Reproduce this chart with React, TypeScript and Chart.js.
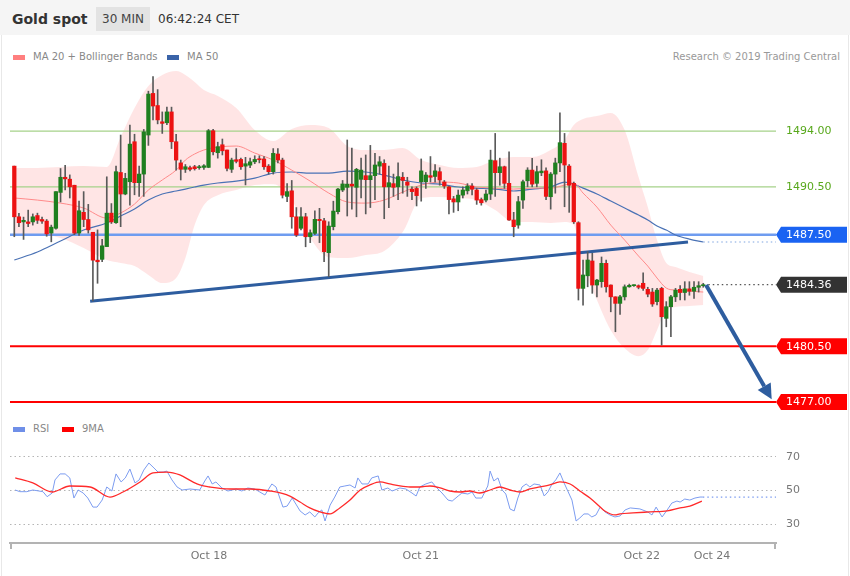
import React, { useEffect, useRef } from 'react';
import { Chart, registerables } from 'chart.js';

Chart.register(...registerables);

const FONT = "'DejaVu Sans', sans-serif";

// ---- 30-min candles (open / high / low / close) ----
const opens = [
  1491.80, 1488.62, 1488.30, 1488.30, 1488.30, 1488.70, 1488.45, 1488.35, 1487.60, 1487.90,
  1490.15, 1491.10, 1490.98, 1490.60, 1487.60, 1488.90, 1488.45, 1487.65, 1485.90, 1485.95,
  1486.75, 1488.85, 1488.25, 1491.40, 1490.05, 1490.82, 1493.33, 1490.76, 1491.30, 1493.75,
  1496.36, 1495.60, 1494.58, 1494.52, 1495.20, 1493.33, 1492.00, 1491.60, 1491.70, 1491.76,
  1491.70, 1491.72, 1491.72, 1494.02, 1492.64, 1493.14, 1492.81, 1491.60, 1492.20, 1492.22,
  1491.80, 1491.86, 1492.07, 1492.25, 1492.25, 1491.80, 1491.45, 1492.56, 1492.18, 1489.90,
  1490.25, 1488.62, 1487.90, 1488.62, 1487.37, 1487.58, 1488.46, 1488.37, 1486.37, 1488.00,
  1488.94, 1490.30, 1490.47, 1490.67, 1490.47, 1490.97, 1491.20, 1490.95, 1491.20, 1491.80,
  1491.97, 1490.50, 1490.70, 1490.50, 1491.10, 1490.80, 1490.35, 1490.40, 1490.82, 1490.82,
  1491.20, 1491.15, 1491.45, 1490.80, 1490.50, 1489.75, 1489.55, 1489.98, 1490.25, 1490.55,
  1490.30, 1489.70, 1489.67, 1490.05, 1492.14, 1491.39, 1491.76, 1490.72, 1488.42, 1488.10,
  1489.67, 1490.88, 1491.55, 1490.72, 1491.38, 1491.50, 1489.88, 1491.30, 1492.00, 1493.23,
  1491.80, 1490.72, 1488.25, 1484.13, 1484.92, 1485.85, 1484.34, 1484.55, 1485.70, 1484.34,
  1483.60, 1483.19, 1483.60, 1484.23, 1484.30, 1484.30, 1484.45, 1484.07, 1483.90, 1483.30,
  1484.13, 1482.25, 1482.98, 1483.60, 1484.07, 1483.87, 1484.10, 1483.95, 1484.20, 1484.30,
];
const highs = [
  1491.80, 1488.84, 1488.60, 1489.04, 1488.80, 1488.85, 1488.60, 1488.45, 1488.10, 1490.20,
  1491.65, 1491.85, 1491.25, 1490.60, 1489.60, 1490.20, 1489.40, 1487.65, 1487.80, 1487.20,
  1491.13, 1489.45, 1491.80, 1493.75, 1491.35, 1494.38, 1493.80, 1491.80, 1494.10, 1496.50,
  1497.41, 1496.60, 1495.20, 1495.50, 1495.50, 1493.80, 1492.18, 1491.90, 1491.80, 1491.85,
  1491.85, 1491.90, 1494.10, 1494.10, 1493.30, 1493.50, 1492.81, 1492.30, 1492.90, 1492.30,
  1492.35, 1492.30, 1492.45, 1492.45, 1492.40, 1491.90, 1492.90, 1492.90, 1492.30, 1490.70,
  1490.90, 1489.20, 1489.20, 1488.84, 1487.80, 1489.00, 1489.15, 1488.52, 1488.31, 1489.60,
  1490.40, 1490.90, 1493.44, 1492.93, 1491.66, 1492.30, 1492.50, 1493.10, 1492.60, 1492.40,
  1492.20, 1491.80, 1491.30, 1492.00, 1491.40, 1491.10, 1490.50, 1490.50, 1492.25, 1491.40,
  1492.40, 1491.90, 1491.70, 1490.90, 1490.55, 1489.90, 1490.30, 1490.50, 1490.70, 1490.70,
  1490.40, 1489.80, 1490.30, 1492.80, 1493.85, 1492.30, 1491.80, 1492.70, 1488.90, 1489.90,
  1490.93, 1491.70, 1492.29, 1491.80, 1492.20, 1491.70, 1491.40, 1492.30, 1495.15, 1493.85,
  1491.90, 1490.80, 1488.31, 1485.90, 1486.43, 1486.33, 1484.70, 1486.10, 1485.90, 1484.35,
  1483.60, 1483.70, 1484.35, 1484.40, 1484.35, 1484.35, 1485.11, 1484.20, 1484.13, 1484.13,
  1484.20, 1483.30, 1483.70, 1484.13, 1484.30, 1484.55, 1484.55, 1484.55, 1484.55, 1484.45,
];
const lows = [
  1487.37, 1488.00, 1487.20, 1488.00, 1488.10, 1488.20, 1488.20, 1487.40, 1487.05, 1487.85,
  1489.55, 1490.30, 1489.80, 1487.50, 1487.45, 1488.00, 1487.60, 1483.35, 1484.45, 1485.80,
  1486.75, 1488.20, 1488.20, 1488.00, 1490.00, 1489.35, 1490.00, 1489.90, 1489.90, 1493.10,
  1494.69, 1494.45, 1493.85, 1494.40, 1492.90, 1491.55, 1490.93, 1491.40, 1491.50, 1491.55,
  1491.60, 1491.60, 1491.70, 1492.50, 1492.30, 1492.50, 1491.50, 1491.40, 1492.00, 1491.60,
  1490.62, 1491.70, 1491.95, 1492.00, 1491.60, 1491.30, 1491.30, 1492.00, 1489.80, 1489.57,
  1487.90, 1487.38, 1487.80, 1486.74, 1487.00, 1487.50, 1487.00, 1485.80, 1484.86, 1487.80,
  1488.80, 1490.20, 1488.67, 1489.10, 1488.62, 1489.80, 1488.80, 1489.20, 1489.70, 1491.30,
  1488.50, 1489.20, 1489.90, 1489.70, 1490.10, 1489.90, 1489.70, 1489.30, 1489.60, 1490.40,
  1490.80, 1490.80, 1490.60, 1490.40, 1488.80, 1488.90, 1489.00, 1489.80, 1490.05, 1490.00,
  1489.40, 1489.35, 1489.55, 1489.70, 1489.90, 1490.60, 1490.40, 1488.40, 1487.37, 1487.90,
  1489.15, 1490.50, 1490.50, 1490.50, 1491.20, 1489.70, 1489.10, 1490.10, 1491.45, 1489.25,
  1488.90, 1488.20, 1483.40, 1483.08, 1484.23, 1483.82, 1483.60, 1484.20, 1483.90, 1482.66,
  1481.41, 1482.50, 1483.40, 1484.20, 1484.25, 1484.10, 1484.00, 1483.60, 1483.00, 1483.10,
  1480.57, 1481.72, 1481.10, 1483.30, 1483.40, 1483.40, 1483.70, 1483.50, 1483.90, 1484.20,
];
const closes = [
  1488.62, 1488.25, 1488.40, 1488.20, 1488.62, 1488.40, 1488.35, 1487.55, 1487.97, 1490.20,
  1491.10, 1491.00, 1490.50, 1487.60, 1489.00, 1488.45, 1487.80, 1485.90, 1485.80, 1486.80,
  1488.85, 1488.30, 1491.45, 1490.05, 1491.03, 1493.18, 1490.76, 1491.30, 1493.95, 1496.32,
  1495.57, 1494.70, 1494.48, 1495.20, 1493.33, 1492.18, 1491.60, 1491.76, 1491.60, 1491.64,
  1491.76, 1491.82, 1494.02, 1492.70, 1493.02, 1492.76, 1491.66, 1492.18, 1492.10, 1491.76,
  1491.95, 1492.07, 1492.22, 1492.20, 1491.76, 1491.45, 1492.60, 1492.18, 1489.98, 1490.20,
  1488.62, 1487.48, 1488.62, 1487.37, 1487.62, 1488.46, 1488.38, 1486.43, 1488.04, 1488.98,
  1490.36, 1490.68, 1490.67, 1490.55, 1491.60, 1491.55, 1490.95, 1491.20, 1491.87, 1492.07,
  1490.50, 1490.76, 1490.47, 1491.14, 1490.90, 1490.60, 1490.20, 1489.95, 1491.50, 1491.24,
  1491.10, 1491.50, 1490.93, 1490.55, 1489.70, 1489.55, 1489.98, 1490.30, 1490.55, 1490.35,
  1489.67, 1489.50, 1490.05, 1492.18, 1491.39, 1491.76, 1490.72, 1488.42, 1488.00, 1489.57,
  1490.82, 1491.55, 1490.67, 1491.45, 1491.49, 1489.90, 1491.30, 1492.00, 1493.27, 1491.87,
  1490.60, 1488.31, 1484.13, 1484.97, 1485.91, 1484.34, 1484.65, 1485.70, 1484.23, 1483.60,
  1483.19, 1483.60, 1484.23, 1484.32, 1484.32, 1484.20, 1484.13, 1483.77, 1483.15, 1484.02,
  1482.35, 1482.98, 1483.60, 1484.02, 1483.87, 1484.10, 1483.95, 1484.20, 1484.30, 1484.36,
];

// ---- indicators sampled at candle indices ----
const bandIdx = [0, 5, 10, 15, 20, 23, 26, 29, 32, 35, 37, 39, 41, 44, 48, 52, 56, 60, 64, 68, 72, 76, 80, 84, 88, 92, 96, 100, 104, 108, 112, 116, 119, 121, 123, 126, 129, 132, 135, 137, 139, 141, 143, 146, 149];
const bbUpper = [1491.68, 1491.68, 1491.74, 1491.80, 1491.74, 1493.62, 1495.44, 1496.82, 1497.51, 1497.76, 1497.51, 1497.07, 1496.57, 1496.20, 1495.44, 1494.06, 1493.37, 1494.13, 1494.38, 1494.19, 1493.06, 1492.81, 1492.81, 1492.93, 1492.18, 1491.87, 1491.68, 1491.74, 1492.18, 1492.37, 1492.37, 1492.81, 1493.44, 1494.38, 1494.75, 1494.94, 1495.13, 1494.06, 1491.11, 1489.23, 1487.16, 1485.72, 1485.47, 1485.15, 1484.90];
const bbLower = [1487.41, 1487.54, 1487.29, 1486.66, 1485.91, 1485.72, 1485.53, 1484.97, 1484.46, 1484.78, 1486.03, 1488.10, 1489.36, 1489.98, 1490.30, 1490.61, 1490.67, 1489.67, 1487.29, 1486.09, 1486.03, 1486.22, 1486.47, 1487.66, 1489.80, 1489.86, 1489.80, 1489.67, 1489.04, 1488.29, 1488.29, 1488.23, 1488.29, 1488.10, 1485.59, 1483.40, 1481.51, 1480.38, 1479.88, 1480.26, 1481.51, 1482.77, 1482.96, 1483.02, 1483.08];
const ma20 = [1489.80, 1489.67, 1489.48, 1489.17, 1488.54, 1488.86, 1489.42, 1490.30, 1490.93, 1491.55, 1492.18, 1492.56, 1492.81, 1492.99, 1493.06, 1492.62, 1492.18, 1491.55, 1490.86, 1490.11, 1489.55, 1489.48, 1489.67, 1490.17, 1490.61, 1490.80, 1490.74, 1490.49, 1490.42, 1490.36, 1490.42, 1490.42, 1490.61, 1490.74, 1490.11, 1489.23, 1488.10, 1487.16, 1486.16, 1485.53, 1484.78, 1484.15, 1484.02, 1483.96, 1483.90];
const ma50 = [1485.91, 1486.41, 1487.10, 1487.79, 1488.23, 1488.67, 1489.11, 1489.67, 1490.05, 1490.24, 1490.36, 1490.49, 1490.61, 1490.74, 1490.86, 1491.05, 1491.36, 1491.43, 1491.36, 1491.36, 1491.49, 1491.43, 1491.24, 1490.93, 1490.74, 1490.67, 1490.49, 1490.42, 1490.36, 1490.24, 1490.36, 1490.49, 1490.80, 1490.67, 1490.42, 1490.05, 1489.61, 1489.17, 1488.73, 1488.42, 1488.04, 1487.79, 1487.48, 1487.22, 1487.04];

// ---- levels & drawings ----
const resistanceLevels = [1494.0, 1490.5];
const pivotLevel = 1487.5;
const supportLevels = [1480.5, 1477.0];
const lastPrice = 1484.36;
const trendStart = { idx: 16.4, price: 1483.33 };
const trendEnd = { idx: 145.7, price: 1487.04 };
const arrowStart = { idx: 149.6, price: 1484.34 };
const arrowEnd = { idx: 163.8, price: 1477.17 };

const xMin = -0.93;
const xMax = 164.73;
const priceMin = 1476.25;
const priceMax = 1498.08;

const xTickIdx = [42.1, 87.9, 135.7, 150.9];
const xTickLabels = ['Oct 18', 'Oct 21', 'Oct 22', 'Oct 24'];

// ---- RSI panel ----
const rsiIdx = [0.2, 1.2, 2.7, 4.0, 6.2, 7.1, 8.2, 8.8, 9.9, 11.0, 12.0, 12.9, 13.8, 14.9, 15.9, 17.0, 17.9, 19.0, 20.0, 21.1, 22.0, 23.1, 24.0, 25.0, 26.1, 27.0, 28.0, 29.1, 30.0, 31.1, 32.2, 33.0, 34.1, 35.2, 36.3, 38.0, 40.1, 41.2, 41.9, 42.8, 43.6, 44.9, 46.2, 48.0, 49.2, 50.5, 52.0, 53.1, 54.2, 55.7, 56.6, 58.1, 59.0, 60.1, 60.9, 61.8, 62.9, 63.9, 65.0, 65.7, 66.5, 67.2, 68.3, 69.3, 70.4, 71.5, 72.6, 73.7, 74.3, 75.2, 76.5, 77.3, 78.7, 79.5, 80.8, 81.7, 83.4, 84.7, 86.0, 86.9, 87.7, 89.0, 90.3, 91.2, 92.5, 93.8, 94.7, 96.0, 96.8, 98.1, 99.0, 99.8, 101.1, 102.4, 102.9, 103.7, 104.6, 105.5, 106.3, 107.2, 108.1, 108.9, 109.8, 110.7, 111.5, 112.4, 113.7, 114.6, 115.4, 116.3, 117.1, 118.0, 118.9, 119.7, 120.6, 121.5, 122.3, 123.2, 124.1, 124.9, 125.8, 126.7, 127.7, 128.8, 129.9, 131.0, 132.1, 133.2, 135.3, 137.0, 137.9, 138.8, 140.1, 141.2, 142.2, 143.3, 144.0, 145.0, 146.1, 147.2, 148.3, 148.9];
const rsiVal = [50.3, 49.3, 49.3, 50.3, 49.3, 46.3, 48.5, 56.3, 59.9, 59.9, 57.5, 45.5, 50.3, 48.5, 45.5, 40.1, 40.1, 44.3, 52.1, 49.7, 59.9, 55.1, 57.5, 62.8, 54.5, 56.3, 62.2, 66.4, 64.0, 61.0, 61.0, 61.6, 56.3, 52.1, 50.3, 50.9, 50.3, 55.7, 58.7, 53.9, 55.1, 51.5, 49.7, 50.9, 49.7, 51.5, 50.9, 49.1, 47.3, 53.9, 52.1, 40.1, 40.7, 45.5, 41.9, 37.8, 35.4, 37.2, 34.2, 36.6, 38.4, 31.8, 41.3, 46.1, 52.1, 52.7, 53.3, 51.5, 57.5, 53.9, 53.9, 57.5, 58.7, 50.3, 51.5, 49.7, 51.5, 50.9, 48.5, 46.7, 52.1, 53.9, 55.1, 52.1, 48.5, 44.3, 43.7, 46.7, 48.5, 47.9, 49.1, 45.5, 45.5, 52.7, 61.6, 55.7, 57.5, 50.3, 47.9, 39.0, 37.8, 45.5, 52.1, 53.9, 52.1, 53.9, 53.3, 46.7, 49.1, 53.9, 56.3, 60.5, 54.5, 49.7, 44.3, 31.8, 33.6, 36.0, 36.0, 34.2, 35.4, 40.1, 37.3, 35.4, 34.2, 34.8, 38.4, 39.6, 39.0, 37.2, 35.4, 40.1, 34.2, 38.4, 42.5, 43.7, 43.1, 44.9, 44.3, 45.5, 46.1, 46.1];
const ma9Idx = [0.2, 4.0, 8.2, 12.0, 16.4, 20.7, 23.5, 27.2, 30.0, 33.0, 35.8, 38.6, 40.1, 42.3, 46.6, 51.0, 55.3, 59.6, 61.8, 63.9, 66.1, 68.3, 70.4, 72.6, 74.8, 76.9, 79.1, 81.2, 83.4, 85.6, 87.7, 89.9, 92.1, 94.2, 96.4, 98.5, 100.7, 102.9, 105.0, 107.2, 109.4, 111.5, 113.7, 115.8, 118.0, 120.2, 122.3, 124.5, 126.7, 127.7, 129.9, 131.0, 133.8, 137.5, 141.2, 144.0, 146.1, 148.7];
const ma9Val = [57.5, 54.5, 49.1, 52.7, 52.1, 46.1, 49.1, 55.1, 60.5, 61.0, 59.3, 55.1, 53.3, 52.1, 50.9, 50.9, 49.7, 46.7, 43.1, 39.6, 37.2, 36.0, 39.6, 44.3, 50.3, 53.3, 55.1, 53.9, 52.7, 52.1, 52.1, 52.7, 51.5, 49.7, 49.1, 49.7, 48.5, 50.3, 52.1, 50.3, 49.1, 50.9, 52.1, 53.3, 55.1, 53.9, 49.7, 45.5, 40.1, 37.8, 35.4, 36.0, 36.6, 37.2, 37.8, 39.6, 40.7, 43.7];
const rsiTicks = [30, 50, 70];
const rsiMin = 18.66;
const rsiMax = 79.55;

// ---- colors ----
const UP = '#1f7f1f';
const DOWN = '#ec1212';
const WICK = '#5a5a5a';
const BLUE_DARK = '#2e5d9f';

const pts = (xs: number[], ys: number[]) => xs.map((x, i) => ({ x, y: ys[i] }));

function hline(level: number, color: string, width: number) {
  return {
    type: 'line',
    data: [{ x: xMin, y: level }, { x: xMax, y: level }],
    borderColor: color,
    borderWidth: width,
    pointRadius: 0,
    fill: false,
    order: 8,
  };
}

function drawTag(ctx: CanvasRenderingContext2D, x0: number, yc: number, text: string, bg: string) {
  const h = 16;
  const tip = 5;
  const right = 847;
  ctx.fillStyle = bg;
  ctx.beginPath();
  ctx.moveTo(x0, yc);
  ctx.lineTo(x0 + tip, yc - h / 2);
  ctx.lineTo(right, yc - h / 2);
  ctx.lineTo(right, yc + h / 2);
  ctx.lineTo(x0 + tip, yc + h / 2);
  ctx.closePath();
  ctx.fill();
  ctx.fillStyle = '#ffffff';
  ctx.font = `11px ${FONT}`;
  ctx.textBaseline = 'middle';
  ctx.textAlign = 'left';
  ctx.fillText(text, x0 + 10, yc + 0.5);
}

const priceOverlay = {
  id: 'priceOverlay',
  afterDatasetsDraw(chart: any) {
    const { ctx, chartArea } = chart;
    const xs = chart.scales.x;
    const ys = chart.scales.y;
    ctx.save();
    ctx.setLineDash([1.5, 3]);
    ctx.lineWidth = 1.2;
    ctx.strokeStyle = '#555';
    const yl = ys.getPixelForValue(lastPrice);
    ctx.beginPath();
    ctx.moveTo(xs.getPixelForValue(opens.length - 1) + 5, yl);
    ctx.lineTo(chartArea.right, yl);
    ctx.stroke();
    ctx.strokeStyle = '#7fa5e0';
    const ym = ys.getPixelForValue(ma50[ma50.length - 1]);
    ctx.beginPath();
    ctx.moveTo(xs.getPixelForValue(bandIdx[bandIdx.length - 1]), ym);
    ctx.lineTo(chartArea.right, ym);
    ctx.stroke();
    ctx.setLineDash([]);

    const x1 = xs.getPixelForValue(arrowStart.idx);
    const y1 = ys.getPixelForValue(arrowStart.price);
    const x2 = xs.getPixelForValue(arrowEnd.idx);
    const y2 = ys.getPixelForValue(arrowEnd.price);
    const ang = Math.atan2(y2 - y1, x2 - x1);
    const head = 15;
    const hw = 7.5;
    const bx = x2 - head * Math.cos(ang);
    const by = y2 - head * Math.sin(ang);
    ctx.strokeStyle = BLUE_DARK;
    ctx.fillStyle = BLUE_DARK;
    ctx.lineWidth = 4;
    ctx.beginPath();
    ctx.moveTo(x1, y1);
    ctx.lineTo(bx, by);
    ctx.stroke();
    ctx.beginPath();
    ctx.moveTo(x2, y2);
    ctx.lineTo(bx + hw * Math.sin(ang), by - hw * Math.cos(ang));
    ctx.lineTo(bx - hw * Math.sin(ang), by + hw * Math.cos(ang));
    ctx.closePath();
    ctx.fill();

    const lx = chartArea.right;
    ctx.font = `11px ${FONT}`;
    ctx.textBaseline = 'middle';
    ctx.textAlign = 'left';
    ctx.fillStyle = '#58a81c';
    resistanceLevels.forEach((lv) => ctx.fillText(lv.toFixed(2), lx + 10, ys.getPixelForValue(lv) + 0.5));
    drawTag(ctx, lx, ys.getPixelForValue(pivotLevel), pivotLevel.toFixed(2), '#1a63f2');
    drawTag(ctx, lx, ys.getPixelForValue(lastPrice), lastPrice.toFixed(2), '#333333');
    supportLevels.forEach((lv) => drawTag(ctx, lx, ys.getPixelForValue(lv), lv.toFixed(2), '#ff0000'));
    ctx.restore();
  },
};

const rsiOverlay = {
  id: 'rsiOverlay',
  afterDraw(chart: any) {
    const { ctx, chartArea } = chart;
    ctx.save();
    ctx.strokeStyle = '#b3b3b3';
    ctx.lineWidth = 2;
    [chartArea.left + 1, chartArea.right - 1].forEach((x: number) => {
      ctx.beginPath();
      ctx.moveTo(x, chartArea.bottom);
      ctx.lineTo(x, chartArea.bottom + 6);
      ctx.stroke();
    });
    ctx.restore();
  },
};

function priceConfig(): any {
  const idx = opens.map((_, i) => i);
  const colors = idx.map((i) => (closes[i] >= opens[i] ? UP : DOWN));
  return {
    type: 'bar',
    data: {
      datasets: [
        {
          type: 'line',
          data: pts(bandIdx, bbUpper),
          borderColor: 'rgba(0,0,0,0)',
          borderWidth: 1,
          pointRadius: 0,
          fill: false,
          cubicInterpolationMode: 'monotone',
          order: 10,
        },
        {
          type: 'line',
          data: pts(bandIdx, bbLower),
          borderColor: 'rgba(0,0,0,0)',
          borderWidth: 1,
          pointRadius: 0,
          fill: '-1',
          backgroundColor: 'rgba(255,110,110,0.18)',
          cubicInterpolationMode: 'monotone',
          order: 10,
        },
        hline(resistanceLevels[0], '#a6d28a', 1.2),
        hline(resistanceLevels[1], '#a6d28a', 1.2),
        hline(pivotLevel, '#6f9cf0', 2.5),
        hline(supportLevels[0], '#ff0000', 2),
        hline(supportLevels[1], '#ff0000', 2),
        {
          type: 'line',
          data: pts(bandIdx, ma20),
          borderColor: '#ff8a8a',
          borderWidth: 1,
          pointRadius: 0,
          cubicInterpolationMode: 'monotone',
          order: 7,
        },
        {
          type: 'line',
          data: pts(bandIdx, ma50),
          borderColor: '#4a72b5',
          borderWidth: 1.2,
          pointRadius: 0,
          cubicInterpolationMode: 'monotone',
          order: 7,
        },
        {
          type: 'line',
          data: [
            { x: trendStart.idx, y: trendStart.price },
            { x: trendEnd.idx, y: trendEnd.price },
          ],
          borderColor: BLUE_DARK,
          borderWidth: 3,
          pointRadius: 0,
          order: 6,
        },
        {
          type: 'bar',
          data: idx.map((i) => ({ x: i, y: [lows[i], highs[i]] })),
          backgroundColor: WICK,
          barThickness: 1,
          grouped: false,
          order: 2,
        },
        {
          type: 'bar',
          data: idx.map((i) => ({ x: i, y: [opens[i], closes[i]] })),
          backgroundColor: colors,
          barThickness: 3.6,
          minBarLength: 1,
          grouped: false,
          order: 1,
        },
      ],
    },
    options: {
      animation: false,
      responsive: false,
      devicePixelRatio: 1,
      events: [],
      layout: { padding: { left: 10, right: 74, top: 4, bottom: 4 } },
      plugins: { legend: { display: false }, tooltip: { enabled: false } },
      scales: {
        x: { type: 'linear', min: xMin, max: xMax, offset: false, display: false },
        y: { type: 'linear', min: priceMin, max: priceMax, beginAtZero: false, display: false },
      },
    },
    plugins: [priceOverlay],
  };
}

function rsiConfig(): any {
  const lastI = rsiIdx.length - 1;
  return {
    type: 'line',
    data: {
      datasets: [
        {
          data: pts(rsiIdx, rsiVal),
          borderColor: '#7c9cf0',
          borderWidth: 1,
          pointRadius: 0,
          tension: 0,
          order: 2,
        },
        {
          data: pts(ma9Idx, ma9Val),
          borderColor: '#ff2a2a',
          borderWidth: 1.3,
          pointRadius: 0,
          cubicInterpolationMode: 'monotone',
          order: 1,
        },
        {
          data: [
            { x: rsiIdx[lastI], y: rsiVal[lastI] },
            { x: xMax, y: rsiVal[lastI] },
          ],
          borderColor: '#7c9cf0',
          borderWidth: 1.3,
          borderDash: [1.5, 3],
          pointRadius: 0,
          order: 3,
        },
      ],
    },
    options: {
      animation: false,
      responsive: false,
      devicePixelRatio: 1,
      events: [],
      layout: { padding: { left: 10, right: 0, top: 1, bottom: 0 } },
      plugins: { legend: { display: false }, tooltip: { enabled: false } },
      scales: {
        x: {
          type: 'linear',
          min: xMin,
          max: xMax,
          offset: false,
          afterBuildTicks: (s: any) => {
            s.ticks = xTickIdx.map((v) => ({ value: v }));
          },
          afterFit: (s: any) => {
            s.height = 33;
            s.paddingLeft = 0;
            s.paddingRight = 0;
          },
          grid: { display: false, drawTicks: false },
          border: { display: true, color: '#b3b3b3', width: 2 },
          ticks: {
            autoSkip: false,
            maxRotation: 0,
            padding: 7,
            color: '#777',
            font: { size: 11, family: FONT },
            callback: (_v: any, i: number) => xTickLabels[i],
          },
        },
        y: {
          position: 'right',
          min: rsiMin,
          max: rsiMax,
          afterBuildTicks: (s: any) => {
            s.ticks = rsiTicks.map((v) => ({ value: v }));
          },
          afterFit: (s: any) => {
            s.width = 74;
            s.paddingTop = 0;
            s.paddingBottom = 0;
          },
          grid: { color: '#b5b5b5', lineWidth: 1, drawTicks: false },
          border: { display: false, dash: [1.5, 3] },
          ticks: { padding: 10, color: '#777', font: { size: 11, family: FONT } },
        },
      },
    },
    plugins: [rsiOverlay],
  };
}

export default function App() {
  const priceRef = useRef<HTMLCanvasElement>(null);
  const rsiRef = useRef<HTMLCanvasElement>(null);

  useEffect(() => {
    Chart.defaults.font.family = FONT;
    const pc = new Chart(priceRef.current as HTMLCanvasElement, priceConfig());
    const rc = new Chart(rsiRef.current as HTMLCanvasElement, rsiConfig());
    return () => {
      pc.destroy();
      rc.destroy();
    };
  }, []);

  const legendText: React.CSSProperties = {
    position: 'absolute',
    fontSize: 10,
    color: '#888',
    lineHeight: '12px',
    whiteSpace: 'nowrap',
  };
  const swatch = (left: number, top: number, color: string): React.CSSProperties => ({
    position: 'absolute',
    left,
    top,
    width: 12,
    height: 5,
    background: color,
  });

  return (
    <div
      style={{
        position: 'fixed',
        left: 0,
        top: 0,
        width: 850,
        height: 576,
        background: '#ffffff',
        fontFamily: FONT,
        overflow: 'hidden',
      }}
    >
      <div style={{ position: 'absolute', left: 0, top: 0, width: 850, height: 35, background: '#f5f5f5' }}>
        <div style={{ position: 'absolute', left: 12, top: 9, lineHeight: '20px', fontSize: 14, fontWeight: 'bold', color: '#333' }}>
          Gold spot
        </div>
        <div
          style={{
            position: 'absolute',
            left: 96,
            top: 7,
            width: 54,
            height: 24,
            lineHeight: '24px',
            background: '#e3e3e3',
            fontSize: 12,
            color: '#444',
            textAlign: 'center',
          }}
        >
          30 MIN
        </div>
        <div style={{ position: 'absolute', left: 158, top: 9, lineHeight: '20px', fontSize: 12, color: '#333' }}>
          06:42:24 CET
        </div>
      </div>
      <div style={{ position: 'absolute', left: 1, top: 35, width: 1, height: 541, background: '#e8e8e8' }} />
      <div style={{ position: 'absolute', left: 848, top: 35, width: 1, height: 541, background: '#e8e8e8' }} />

      <div style={swatch(13, 55, '#ff7f7f')} />
      <div style={{ ...legendText, left: 33, top: 51 }}>MA 20 + Bollinger Bands</div>
      <div style={swatch(167, 55, '#3a63a8')} />
      <div style={{ ...legendText, left: 187, top: 51 }}>MA 50</div>
      <div style={{ ...legendText, right: 10, top: 51, color: '#999' }}>Research © 2019 Trading Central</div>

      <canvas ref={priceRef} width={850} height={356} style={{ position: 'absolute', left: 0, top: 62, width: 850, height: 356 }} />

      <div style={swatch(13, 427, '#6f8fe8')} />
      <div style={{ ...legendText, left: 33, top: 423 }}>RSI</div>
      <div style={swatch(62, 427, '#ff0000')} />
      <div style={{ ...legendText, left: 82, top: 423 }}>9MA</div>

      <canvas ref={rsiRef} width={850} height={136} style={{ position: 'absolute', left: 0, top: 440, width: 850, height: 136 }} />
    </div>
  );
}
